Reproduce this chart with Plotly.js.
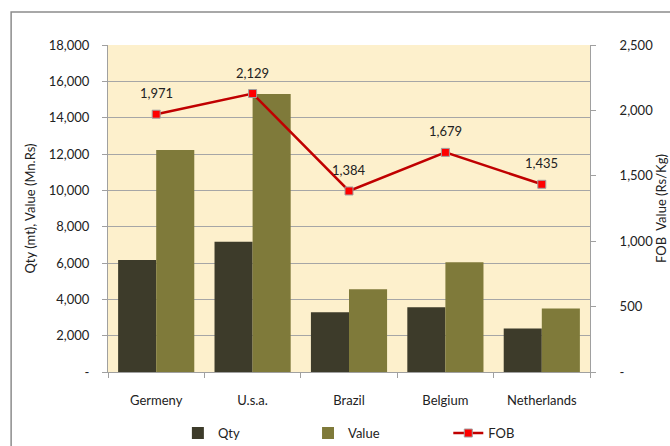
<!DOCTYPE html>
<html>
<head>
<meta charset="utf-8">
<script src="https://cdn.plot.ly/plotly-3.0.1.min.js"></script>
<style>
  html, body { margin: 0; padding: 0; background: #fff; }
  #chart { width: 670px; height: 446px; }
</style>
</head>
<body>
<div id="chart"></div>
<script>
const countries = ['Germeny', 'U.s.a.', 'Brazil', 'Belgium', 'Netherlands'];
const qty = [6170, 7170, 3290, 3560, 2400];
const value = [12220, 15300, 4550, 6040, 3490];
const fob = [1971, 2129, 1384, 1679, 1435];

const leftTicks = [0, 2000, 4000, 6000, 8000, 10000, 12000, 14000, 16000, 18000];
const leftLabels = ['-', '2,000', '4,000', '6,000', '8,000', '10,000', '12,000', '14,000', '16,000', '18,000'];
const rightTicks = [0, 500, 1000, 1500, 2000, 2500];
const rightLabels = ['-', '500', '1,000', '1,500', '2,000', '2,500'];

const fam = 'Lato, "Open Sans", sans-serif';
const txt = { family: fam, size: 13, color: '#222' };

const traces = [
  {
    type: 'bar', name: 'Qty', x: countries, y: qty, legend: 'legend',
    marker: { color: '#3d3b2a' }, hoverinfo: 'skip'
  },
  {
    type: 'bar', name: 'Value', x: countries, y: value, legend: 'legend2',
    marker: { color: '#7f7a3a' }, hoverinfo: 'skip'
  },
  {
    type: 'scatter', mode: 'lines+markers', name: 'FOB', legend: 'legend3',
    x: countries, y: fob, yaxis: 'y2',
    line: { color: '#c00000', width: 2.5 },
    marker: { symbol: 'square', size: 8, color: '#ff0000', line: { color: '#a0a0a0', width: 1 } },
    hoverinfo: 'skip'
  }
];

// data labels above the FOB points
const labels = countries.map((c, i) => ({
  x: c, y: fob[i], xref: 'x', yref: 'y2',
  text: fob[i].toLocaleString('en-US'),
  showarrow: false, yshift: 21,
  font: txt
}));

const legendBase = {
  orientation: 'h', yref: 'container', y: 0.029, yanchor: 'middle', xanchor: 'left',
  font: txt, bgcolor: 'rgba(0,0,0,0)'
};

const layout = {
  width: 670, height: 446,
  margin: { l: 108, r: 80, t: 45, b: 74, autoexpand: false },
  paper_bgcolor: '#ffffff',
  plot_bgcolor: '#fdf0cc',
  font: txt,
  barmode: 'group',
  bargap: 0.21,
  bargroupgap: 0,
  showlegend: true,
  legend: Object.assign({ x: 0.145 }, legendBase),
  legend2: Object.assign({ x: 0.415 }, legendBase),
  legend3: Object.assign({ x: 0.706 }, legendBase),
  xaxis: {
    showgrid: false, showline: true, linecolor: '#a0a0a0', linewidth: 1,
    ticks: 'outside', tickson: 'boundaries', ticklen: 5, tickcolor: '#a0a0a0',
    tickfont: txt, ticklabelstandoff: 16, automargin: false,
    fixedrange: true
  },
  yaxis: {
    range: [0, 18000],
    tickvals: leftTicks, ticktext: leftLabels,
    showgrid: true, gridcolor: '#a6a6a6', gridwidth: 1,
    showline: true, linecolor: '#a0a0a0', linewidth: 1,
    ticks: 'outside', ticklen: 5, tickcolor: '#a0a0a0',
    tickfont: txt, ticklabelstandoff: 10, automargin: false,
    title: { text: 'Qty (mt), Value (Mn.Rs)', font: { family: fam, size: 13, color: '#222' }, standoff: 10 },
    zeroline: false
  },
  yaxis2: {
    range: [0, 2500], overlaying: 'y', side: 'right',
    tickvals: rightTicks, ticktext: rightLabels,
    showgrid: false, showline: true, linecolor: '#a0a0a0', linewidth: 1,
    ticks: 'outside', ticklen: 5, tickcolor: '#a0a0a0',
    tickfont: txt, ticklabelstandoff: 21, automargin: false,
    title: { text: 'FOB  Value (Rs/Kg)', font: { family: fam, size: 13, color: '#222' }, standoff: 0 },
    zeroline: false
  },
  annotations: labels,
  shapes: [
    {
      type: 'rect', xref: 'paper', yref: 'paper',
      x0: -0.201, x1: 1.2, y0: -0.3, y1: 1.101,
      line: { color: '#8c8c8c', width: 1.5 }, fillcolor: 'rgba(0,0,0,0)', layer: 'below'
    }
  ]
};

Plotly.newPlot('chart', traces, layout, { displayModeBar: false, staticPlot: true });
</script>
</body>
</html>
